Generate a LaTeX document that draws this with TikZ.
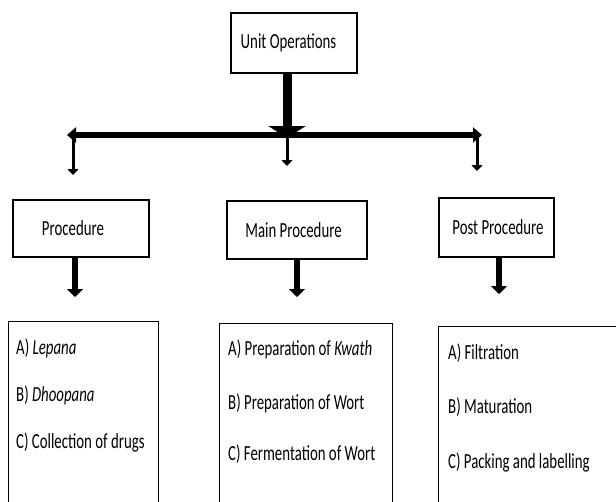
\documentclass[tikz,border=0pt]{standalone}
\usepackage{fontspec}
\setmainfont{Carlito}[FakeStretch=0.69]
\usetikzlibrary{arrows.meta}
\tikzset{
  box/.style={draw, line width=1.4pt, fill=white, inner sep=0pt, font=\fontsize{21.5}{25}\selectfont},
  listbox/.style={draw, line width=1.4pt, inner sep=0pt, anchor=north west},
  item/.style={inner sep=0pt, anchor=mid west, font=\fontsize{21.5}{25}\selectfont},
  bigarrow/.style={line width=9pt, -{Triangle[width=37pt,length=12pt]}},
  barline/.style={line width=5.5pt, {Triangle[width=15pt,length=9pt]}-{Triangle[width=15pt,length=9pt]}},
  thinarrow/.style={line width=3pt, -{Triangle[width=11pt,length=6pt]}},
  midarrow/.style={line width=6pt, -{Triangle[width=16pt,length=8pt]}},
}
\begin{document}
\begin{tikzpicture}[x=1pt,y=-1pt]
\useasboundingbox (0,0) rectangle (616,501);
\clip (0,0) rectangle (616,501);

% top node
\node[box, minimum width=126pt, minimum height=60pt] (uo) at (294,43) {\hspace*{-11pt}Unit Operations};

% second level
\node[box, minimum width=136pt, minimum height=57pt] (pr) at (81,228.5) {\hspace*{-16pt}Procedure};
\node[box, minimum width=140pt, minimum height=58pt] (mp) at (297,230) {\hspace*{-7pt}Main Procedure};
\node[box, minimum width=115pt, minimum height=59pt] (pp) at (496.5,227.5) {\hspace*{3pt}Post Procedure};

% bar and connectors
\coordinate (bl) at (67,135);
\coordinate (br) at (482,135);
\coordinate (bm) at (287,138);
\draw[bigarrow] (uo.south -| bm) -- (bm);
\draw[barline] (bl) -- (br);

\coordinate (s1) at (73,135);   \coordinate (e1) at (73,175);
\coordinate (s2) at (287,135);  \coordinate (e2) at (287,166);
\coordinate (s3) at (477,135);  \coordinate (e3) at (477,171);
\draw[thinarrow] (s1) -- (e1);
\draw[thinarrow] (s2) -- (e2);
\draw[thinarrow] (s3) -- (e3);

\coordinate (a1) at (75,297);
\coordinate (a2) at (297,297);
\coordinate (a3) at (499,294);
\draw[midarrow] (pr.south -| a1) -- (a1);
\draw[midarrow] (mp.south -| a2) -- (a2);
\draw[midarrow] (pp.south -| a3) -- (a3);

% bottom boxes
\node[listbox, minimum width=150pt, minimum height=200pt] (lb) at (8,321) {};
\node[listbox, minimum width=173pt, minimum height=200pt] (mb) at (219,323) {};
\node[listbox, minimum width=200pt, minimum height=200pt] (rb) at (438,326) {};

\node[item] (l1) at (16,352) {A) \textit{Lepana}};
\node[item] (l2) at (16,399) {B) \textit{Dhoopana}};
\node[item] (l3) at (16,446) {C) Collection of drugs};

\node[item] (m1) at (228,353) {A) Preparation of \textit{Kwath}};
\node[item] (m2) at (228,407) {B) Preparation of Wort};
\node[item] (m3) at (228,458) {C) Fermentation of Wort};

\node[item] (r1) at (448,357) {A) Filtration};
\node[item] (r2) at (448,411) {B) Maturation};
\node[item] (r3) at (448,466) {C) Packing and labelling};
\end{tikzpicture}
\end{document}
